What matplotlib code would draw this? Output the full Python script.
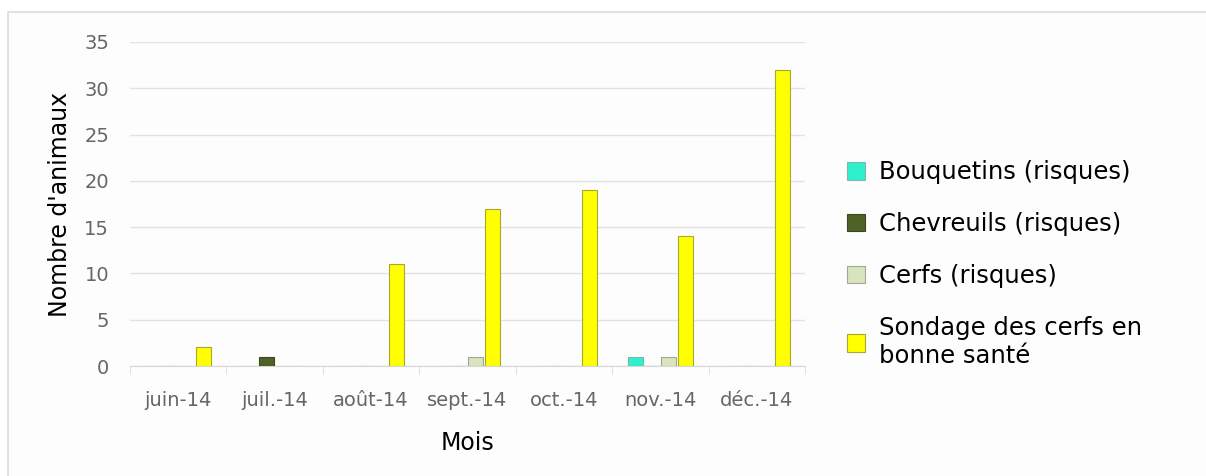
import numpy as np
import matplotlib.pyplot as plt
from matplotlib.patches import Rectangle

# data
months = ['juin-14', 'juil.-14', 'août-14', 'sept.-14', 'oct.-14', 'nov.-14', 'déc.-14']
bouquetins = [0, 0, 0, 0, 0, 1, 0]
chevreuils = [0, 1, 0, 0, 0, 0, 0]
cerfs = [0, 0, 0, 1, 0, 1, 0]
sondage = [2, 0, 11, 17, 19, 14, 32]

series_names = ['Bouquetins (risques)', 'Chevreuils (risques)', 'Cerfs (risques)',
                'Sondage des cerfs en\nbonne santé']
colors = ['#2ef0cc', '#4f6228', '#d7e4bd', '#ffff00']
edges = ['#7fb8a8', '#3a4a1e', '#a0a890', '#a8a830']

fig = plt.figure(figsize=(12.06, 4.76), dpi=100)
fig.patch.set_facecolor('white')

# light frame around the chart
fig.patches.append(Rectangle((8 / 1206, -0.1), 1.2, (476 - 12) / 476 + 0.1,
                             transform=fig.transFigure, facecolor='#fdfdfd',
                             edgecolor='#dcdcdc', linewidth=1.2, zorder=-10))

ax = fig.add_axes([130 / 1206, 110 / 476, 675 / 1206, 324 / 476])
ax.set_facecolor('none')

x = np.arange(len(months))
width = 0.155
offsets = [-0.2625, -0.0875, 0.0875, 0.2625]
for vals, name, c, ec, off in zip([bouquetins, chevreuils, cerfs, sondage],
                                  series_names, colors, edges, offsets):
    ax.bar(x + off, vals, width, color=c, edgecolor=ec, linewidth=0.8,
           label=name, zorder=3)

ax.set_xlim(-0.5, len(months) - 0.5)
ax.set_ylim(0, 35)
ax.set_yticks(range(0, 36, 5))
ax.yaxis.grid(True, color='#e2e2e2', linewidth=1)
ax.set_axisbelow(True)

ax.set_xticks(x)
ax.set_xticklabels(months)
ax.set_xticks(np.arange(-0.5, len(months), 1), minor=True)
ax.tick_params(axis='x', which='major', length=0, pad=18, labelsize=14, labelcolor='#666666')
ax.tick_params(axis='x', which='minor', length=6, color='#d8d8d8')
ax.tick_params(axis='y', length=0, pad=15, labelsize=14, labelcolor='#666666')

for s in ['top', 'right', 'left']:
    ax.spines[s].set_visible(False)
ax.spines['bottom'].set_color('#d8d8d8')

ax.set_ylabel("Nombre d'animaux", fontsize=17, labelpad=9)
ax.set_xlabel('Mois', fontsize=17, labelpad=15)

leg = fig.legend(loc='center left', bbox_to_anchor=(847 / 1206, 1 - 264 / 476),
                 frameon=False, fontsize=17.5, handlelength=0.74, handleheight=0.74,
                 handletextpad=0.58, labelspacing=1.15, borderpad=0, borderaxespad=0)

fig.savefig('out.png', dpi=100)
